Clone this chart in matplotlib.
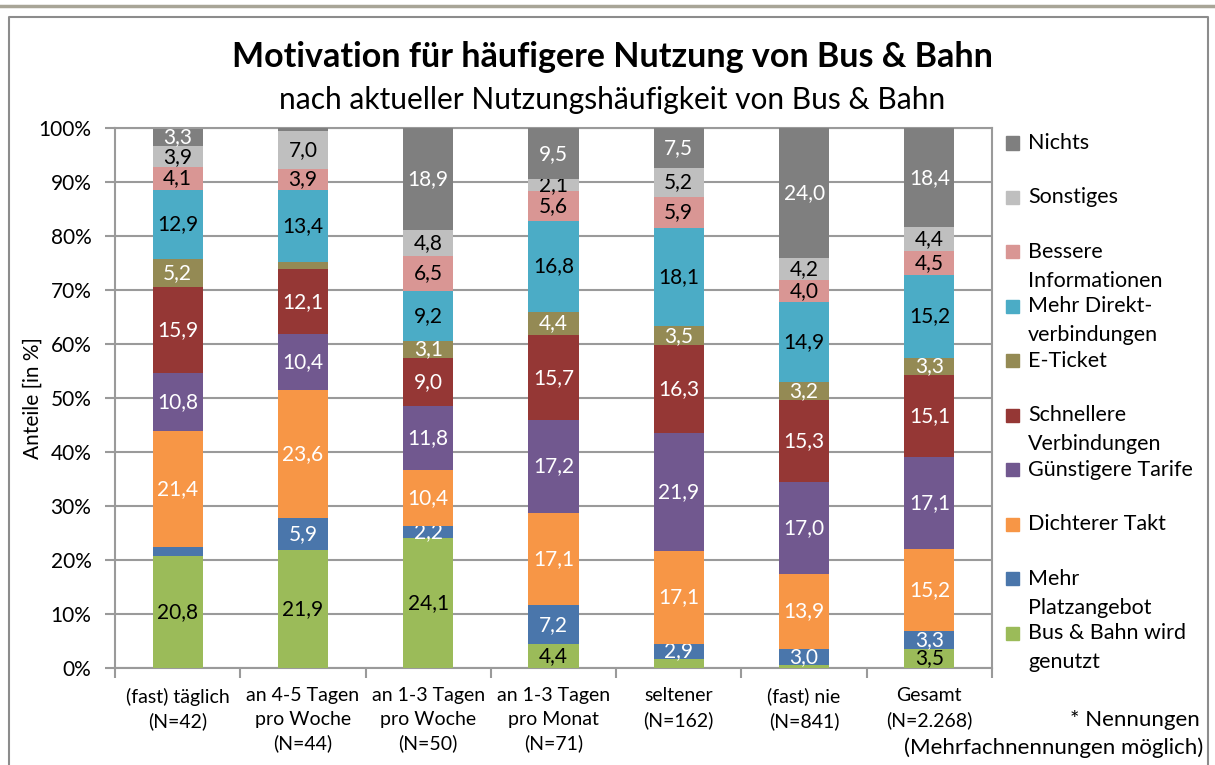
import numpy as np
import matplotlib.pyplot as plt
from matplotlib.patches import Rectangle
from matplotlib.lines import Line2D

plt.rcParams['font.family'] = ['Lato', 'DejaVu Sans']

# Kategorien (Nutzungshäufigkeit)
kategorien = ["(fast) täglich\n(N=42)", "an 4-5 Tagen\npro Woche\n(N=44)",
              "an 1-3 Tagen\npro Woche\n(N=50)", "an 1-3 Tagen\npro Monat\n(N=71)",
              "seltener\n(N=162)", "(fast) nie\n(N=841)", "Gesamt\n(N=2.268)"]

# Anteile in % (von unten nach oben)
bus_bahn = [20.8, 21.9, 24.1, 4.4, 1.6, 0.5, 3.5]
platz = [1.6, 5.9, 2.2, 7.2, 2.9, 3.0, 3.3]
takt = [21.4, 23.6, 10.4, 17.1, 17.1, 13.9, 15.2]
tarife = [10.8, 10.4, 11.8, 17.2, 21.9, 17.0, 17.1]
schneller = [15.9, 12.1, 9.0, 15.7, 16.3, 15.3, 15.1]
eticket = [5.2, 1.2, 3.1, 4.4, 3.5, 3.2, 3.3]
direkt = [12.9, 13.4, 9.2, 16.8, 18.1, 14.9, 15.2]
info = [4.1, 3.9, 6.5, 5.6, 5.9, 4.0, 4.5]
sonstiges = [3.9, 7.0, 4.8, 2.1, 5.2, 4.2, 4.4]
nichts = [3.3, 0.6, 18.9, 9.5, 7.5, 24.0, 18.4]

namen = ["Bus & Bahn wird\ngenutzt", "Mehr\nPlatzangebot", "Dichterer Takt",
         "Günstigere Tarife", "Schnellere\nVerbindungen", "E-Ticket",
         "Mehr Direkt-\nverbindungen", "Bessere\nInformationen", "Sonstiges", "Nichts"]
reihen = [bus_bahn, platz, takt, tarife, schneller, eticket, direkt, info, sonstiges, nichts]
farben = ["#9BBB59", "#4A76AB", "#F79646", "#71588F", "#953735",
          "#948A54", "#4BACC6", "#D99694", "#BFBFBF", "#7F7F7F"]
textfarben = ["black", "white", "white", "white", "white",
              "white", "black", "black", "black", "white"]

fig = plt.figure(figsize=(12.15, 7.65), dpi=100)
W, H = 1215, 765
ax = fig.add_axes([115 / W, 1 - 668 / H, 877 / W, 540 / H])

x = np.arange(len(kategorien))
unten = np.zeros(len(kategorien))
for werte, name, farbe, tf in zip(reihen, namen, farben, textfarben):
    werte = np.array(werte)
    bars = ax.bar(x, werte, 0.4, bottom=unten, color=farbe, label=name, zorder=3)
    labels = [f"{v:.1f}".replace(".", ",") if v >= 2 else "" for v in werte]
    ax.bar_label(bars, labels=labels, label_type="center", color=tf, fontsize=15)
    unten += werte

grau = "#9a9a9a"
ax.set_xlim(-0.5, len(kategorien) - 0.5)
ax.set_ylim(0, 100)
ax.set_yticks(np.arange(0, 101, 10))
ax.set_yticklabels([f"{v}%" for v in range(0, 101, 10)], fontsize=15)
ax.yaxis.grid(True, color=grau, linewidth=1.5, zorder=0)
ax.set_xticks(x)
ax.set_xticklabels(kategorien, fontsize=14, linespacing=1.45)
ax.set_xticks(np.arange(-0.5, len(kategorien)), minor=True)
ax.tick_params(axis="x", which="major", length=0, pad=14)
ax.tick_params(axis="x", which="minor", length=7, color=grau, width=1.5)
ax.tick_params(axis="y", length=7, color=grau, width=1.5, pad=10)
for s in ax.spines.values():
    s.set_color(grau)
    s.set_linewidth(1.5)
ax.set_ylabel("Anteile [in %]", fontsize=15)
ax.yaxis.set_label_coords((43 - 115) / 877, 0.5)

fig.text(0.504, 1 - 57 / H, "Motivation für häufigere Nutzung von Bus & Bahn",
         ha="center", va="center", fontsize=24.5, fontweight="bold")
fig.text(0.504, 1 - 100 / H, "nach aktueller Nutzungshäufigkeit von Bus & Bahn",
         ha="center", va="center", fontsize=21.5)

# Legende rechts (von oben nach unten)
for i, (name, farbe) in enumerate(zip(namen[::-1], farben[::-1])):
    y = 143 + i * 54.45
    fig.add_artist(Rectangle((1006 / W, 1 - (y + 6.5) / H), 13 / W, 13 / H,
                             transform=fig.transFigure, color=farbe))
    for j, zeile in enumerate(name.split("\n")):
        fig.text(1028 / W, 1 - (y + j * 29) / H, zeile, ha="left", va="center", fontsize=15.5)

fig.text(1200 / W, 1 - 720 / H, "* Nennungen", ha="right", va="center", fontsize=16)
fig.text(1203 / W, 1 - 748 / H, "(Mehrfachnennungen möglich)", ha="right", va="center", fontsize=16)

# Rahmen
fig.add_artist(Line2D([0, 1], [1 - 6 / H, 1 - 6 / H], transform=fig.transFigure,
                      color="#a8a597", linewidth=2.5))
fig.add_artist(Line2D([9 / W, 9 / W, 1208 / W, 1208 / W], [0, 1 - 17 / H, 1 - 17 / H, 0],
                      transform=fig.transFigure, color="#8c8c8c", linewidth=1.5))

fig.savefig("out.png", dpi=100)
